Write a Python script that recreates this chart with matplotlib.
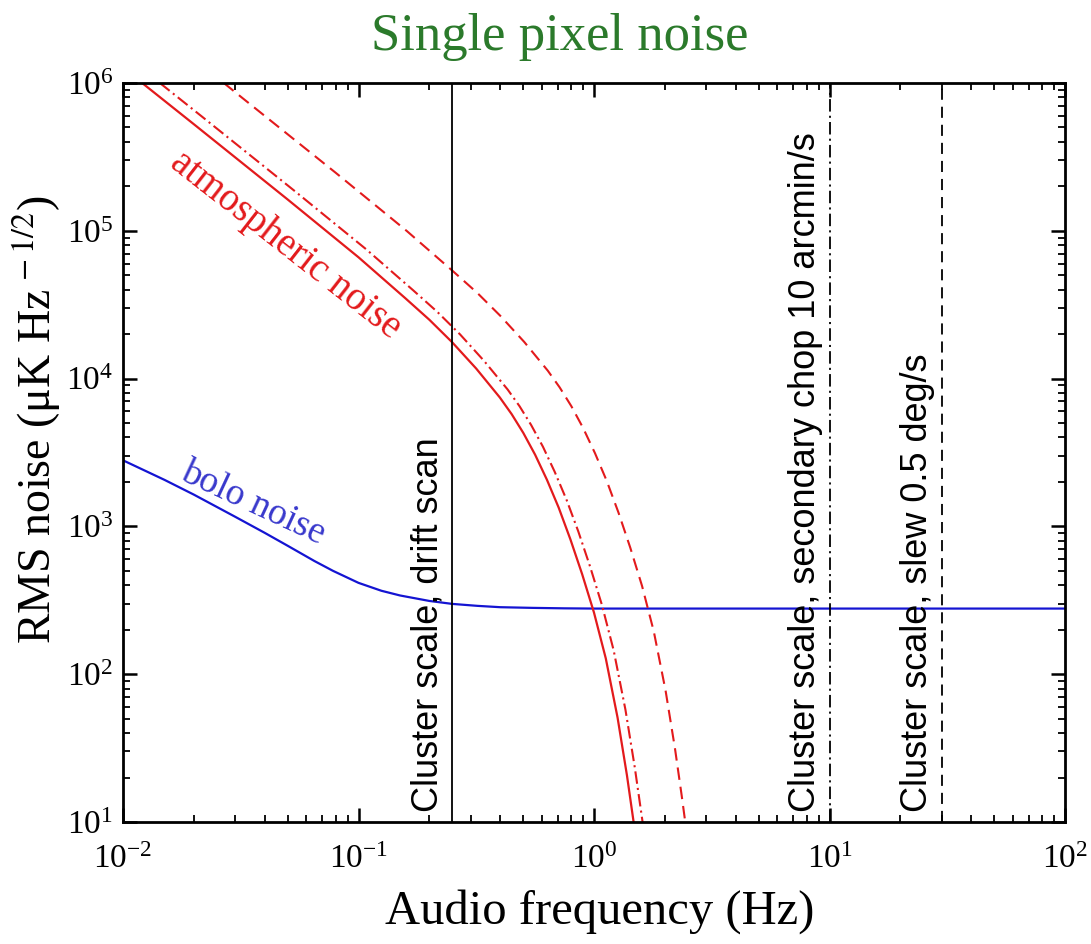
import matplotlib
matplotlib.use('Agg')
import matplotlib.pyplot as plt

# Colours
RED = '#e31a1c'
BLUE = '#1414d2'
BLUE_TEXT = '#3838cc'
GREEN = '#2b7a2b'

# Bolometer (white + 1/f) noise
freq_bolo = [0.01, 0.015, 0.02, 0.03, 0.04, 0.05, 0.065, 0.078, 0.1, 0.125, 0.15,
             0.2, 0.25, 0.32, 0.4, 0.55, 0.75, 1.0, 3.0, 100.0]
rms_bolo = [2800, 2065, 1640, 1160, 904, 740, 583, 500, 415, 367, 341,
            313, 299, 290, 284, 281, 279, 278, 278, 278]

# Atmospheric noise, drift scan (solid)
freq_atm_solid = [0.01206, 0.02, 0.05, 0.1, 0.158, 0.2, 0.25, 0.316, 0.398, 0.447, 0.501,
                  0.562, 0.631, 0.708, 0.794, 0.891, 1.0, 1.122, 1.259, 1.38, 1.473]
rms_atm_solid = [1.0e6, 5.26e5, 1.63e5, 6.62e4, 3.50e4, 2.50e4, 1.76e4, 1.17e4, 7.46e3,
                 5.75e3, 4.29e3, 3.06e3, 2.07e3, 1.34e3, 817, 474, 261, 128, 50.9,
                 20.7, 10]

# Atmospheric noise, secondary chop (dash-dot)
freq_atm_dashdot = [0.01434, 0.0216, 0.054, 0.108, 0.1706, 0.216, 0.27, 0.341, 0.43,
                    0.483, 0.541, 0.607, 0.681, 0.765, 0.858, 0.962, 1.08, 1.212, 1.36,
                    1.49, 1.608]
rms_atm_dashdot = [1.0e6, 5.94e5, 1.84e5, 7.48e4, 3.96e4, 2.83e4, 1.99e4, 1.32e4, 8.43e3,
                   6.50e3, 4.85e3, 3.46e3, 2.34e3, 1.51e3, 923, 536, 295, 145, 57.5,
                   23.4, 10]

# Atmospheric noise, slew (dashed)
freq_atm_dashed = [0.0268, 0.032, 0.08, 0.16, 0.2528, 0.32, 0.40, 0.5056, 0.6368, 0.7152,
                   0.8016, 0.8992, 1.0096, 1.1328, 1.2704, 1.4256, 1.60, 1.7952, 2.0144,
                   2.208, 2.3568, 2.44]
rms_atm_dashed = [1.0e6, 7.96e5, 2.47e5, 1.00e5, 5.30e4, 3.79e4, 2.66e4, 1.77e4, 1.13e4,
                  8.71e3, 6.50e3, 4.63e3, 3.13e3, 2.03e3, 1.24e3, 718, 395, 194, 77.1,
                  31.3, 15.1, 10]

# Cluster scale frequencies for the three observing modes
scale_freqs = [0.25, 10.0, 30.0]
scale_labels = ['Cluster scale, drift scan',
                'Cluster scale, secondary chop 10 arcmin/s',
                'Cluster scale, slew 0.5 deg/s']
scale_dashes = [None, (9, 3, 1.5, 3), (8, 5)]

plt.rcParams['font.family'] = 'serif'
plt.rcParams['font.serif'] = ['Liberation Serif', 'DejaVu Serif']
plt.rcParams['mathtext.fontset'] = 'stix'
plt.rcParams['lines.scale_dashes'] = False

fig = plt.figure(figsize=(10.91, 9.44), dpi=100)
ax = fig.add_axes([123 / 1091, 1 - 822 / 944, 942 / 1091, 739 / 944])
ax.set_xscale('log')
ax.set_yscale('log')
ax.set_xlim(1e-2, 1e2)
ax.set_ylim(1e1, 1e6)

ax.plot(freq_bolo, rms_bolo, color=BLUE, lw=1.6)
ax.plot(freq_atm_solid, rms_atm_solid, color=RED, lw=1.6)
ax.plot(freq_atm_dashdot, rms_atm_dashdot, color=RED, lw=1.5, dashes=(9, 3, 1.5, 3))
ax.plot(freq_atm_dashed, rms_atm_dashed, color=RED, lw=1.5, dashes=(9, 5))

for f, label, dash in zip(scale_freqs, scale_labels, scale_dashes):
    if dash is None:
        ax.axvline(f, color='k', lw=1.3)
    else:
        ax.axvline(f, color='k', lw=1.3, dashes=dash)
    ax.annotate(label, xy=(f, 0), xycoords=('data', 'axes fraction'),
                xytext=(-5, 7), textcoords='offset points',
                rotation=90, ha='right', va='bottom',
                fontsize=26, family='Liberation Sans')

ax.text(0.049, 8e4, 'atmospheric noise', color=RED, rotation=-38,
        fontsize=28, ha='center', va='center')
ax.text(0.0356, 1440, 'bolo noise', color=BLUE_TEXT, rotation=-25,
        fontsize=27, ha='center', va='center')

for side in ax.spines.values():
    side.set_linewidth(2.0)
ax.tick_params(which='both', direction='in', top=True, right=True)
ax.tick_params(which='major', length=10, width=1.8, labelsize=24)
ax.tick_params(axis='x', which='major', pad=16)
ax.tick_params(axis='y', which='major', pad=7)
ax.tick_params(which='minor', length=5, width=1.3)

fig.text(560 / 1091, 1 - 37 / 944, 'Single pixel noise', color=GREEN,
         fontsize=38, ha='center', va='center')
fig.text(600 / 1091, 1 - 912 / 944, 'Audio frequency (Hz)',
         fontsize=35, ha='center', va='center')
fig.text(37 / 1091, 1 - 420 / 944, r'RMS noise (μK Hz$^{\,-1/2}$)',
         fontsize=33, rotation=90, ha='center', va='center')

fig.savefig('out.png', dpi=100)
